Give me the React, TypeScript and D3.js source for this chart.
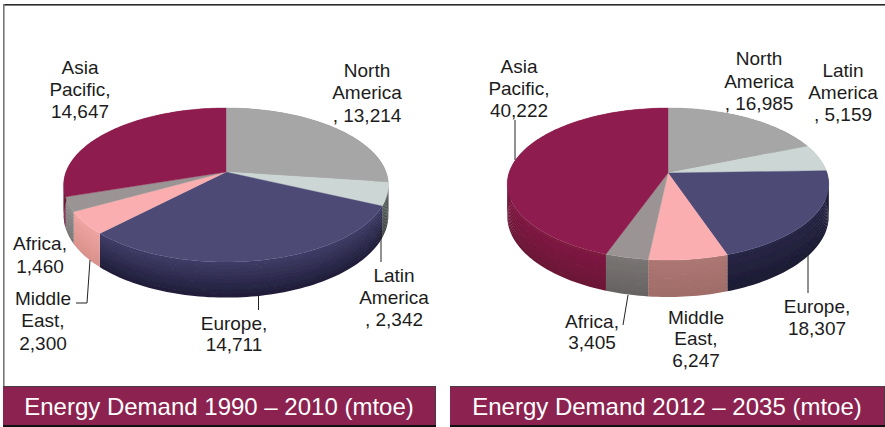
import React from "react";
import * as d3 from "d3";

// Energy demand by region, in mtoe, clockwise from twelve o'clock.
const regions = ["North America", "Latin America", "Europe", "Middle East", "Africa", "Asia Pacific"];
const demand1990 = [13214, 2342, 14711, 2300, 1460, 14647];
const demand2012 = [16985, 5159, 18307, 6247, 3405, 40222];
const titles = ["Energy Demand 1990 – 2010 (mtoe)", "Energy Demand 2012 – 2035 (mtoe)"];

const topColors = ["#a6a6a6", "#ccd6d4", "#4e4b76", "#fbaeb0", "#9b9494", "#8f1f4f"];
const sideTop1990 = ["#777", "#59625f", "#3e3b65", "#eda39f", "#8f8b8b", "#7c1a40"];
const sideBottom1990 = ["#555", "#3c4240", "#1e1c36", "#d98f8a", "#777373", "#5f1230"];
const sideTop2012 = ["#777", "#8e9694", "#272545", "#ac7672", "#787473", "#7e1a41"];
const sideBottom2012 = ["#555", "#666", "#1c1a32", "#a06c68", "#666262", "#6a1435"];

// Label text lines with their anchor x and the centre y of each line.
type Label = { lines: string[]; x: number; ys: number[] };
const labels1990: Label[] = [
  { lines: ["Asia", "Pacific,", "14,647"], x: 80, ys: [67, 89, 111] },
  { lines: ["North", "America", ", 13,214"], x: 367, ys: [70, 92, 115] },
  { lines: ["Latin", "America", ", 2,342"], x: 394, ys: [275, 297, 319] },
  { lines: ["Europe,", "14,711"], x: 234, ys: [323, 344] },
  { lines: ["Middle", "East,", "2,300"], x: 43, ys: [298, 320, 343] },
  { lines: ["Africa,", "1,460"], x: 40, ys: [243, 266] },
];
const labels2012: Label[] = [
  { lines: ["Asia", "Pacific,", "40,222"], x: 519, ys: [66, 88, 110] },
  { lines: ["North", "America", ", 16,985"], x: 759, ys: [58, 81, 103] },
  { lines: ["Latin", "America", ", 5,159"], x: 843, ys: [70, 92, 114] },
  { lines: ["Europe,", "18,307"], x: 817, ys: [306, 328] },
  { lines: ["Middle", "East,", "6,247"], x: 696, ys: [317, 338, 360] },
  { lines: ["Africa,", "3,405"], x: 592, ys: [321, 342] },
];

// Leader polylines from a label to its slice.
const leaders1990 = [
  [[381, 230], [381, 262]],
  [[258.5, 296], [258.5, 310]],
  [[90, 260], [87, 303], [76, 303]],
];
const leaders2012 = [
  [[515, 120], [515, 160]],
  [[808, 255], [808, 293]],
  [[628, 295], [623, 325]],
];

// A tilted disc: perspective maps the unit circle to an ellipse with the hub above its centre.
type Disc = { cx: number; hubY: number; r: number; h: number; k: number; depth: number };
const disc1990: Disc = { cx: 226, hubY: 172, r: 160, h: 74.8, k: 0.169, depth: 29 };
const disc2012: Disc = { cx: 668, hubY: 173, r: 159, h: 74.4, k: 0.145, depth: 31 };

const project = (d: Disc, angle: number, drop = 0): [number, number] => {
  const u = Math.sin(angle);
  const v = Math.cos(angle);
  const w = 1 / (1 + d.k * v);
  return [d.cx + d.r * u * w, d.hubY - d.h * v * w + drop * d.depth * w];
};

const pieLayout = d3.pie<number>().sort(null);
const linePath = d3.line();
const bandCount = 10;

function rim(d: Disc, a0: number, a1: number, drop = 0) {
  const steps = Math.max(2, Math.ceil((a1 - a0) * 40));
  return d3.range(steps + 1).map((i) => project(d, a0 + ((a1 - a0) * i) / steps, drop));
}

function Pie3D({ values, disc, sideTop, sideBottom }: { values: number[]; disc: Disc; sideTop: string[]; sideBottom: string[] }) {
  const arcs = pieLayout(values);
  return (
    <g filter="url(#soften)">
      {arcs.map((a, i) => {
        const mix = d3.interpolateRgb(sideTop[i], sideBottom[i]);
        return d3.range(bandCount).map((b) => {
          const t0 = b / bandCount;
          const t1 = (b + 1) / bandCount;
          const upper = rim(disc, a.startAngle, a.endAngle, t0);
          const lower = rim(disc, a.startAngle, a.endAngle, t1 + 0.02).reverse();
          return <path key={`${regions[i]}-${b}`} d={linePath([...upper, ...lower]) + "Z"} fill={mix(t0)} />;
        });
      })}
      {arcs.map((a, i) => (
        <path
          key={regions[i]}
          d={linePath([[disc.cx, disc.hubY], ...rim(disc, a.startAngle, a.endAngle)]) + "Z"}
          fill={topColors[i]}
          stroke={topColors[i]}
          strokeWidth={0.4}
        />
      ))}
    </g>
  );
}

function Labels({ items }: { items: Label[] }) {
  return (
    <g fontFamily="'Liberation Sans', Arial, sans-serif" fontSize={19} fill="#1c1c1c" textAnchor="middle">
      {items.map((l) =>
        l.lines.map((t, i) => (
          <text key={l.x + t} x={l.x} y={l.ys[i] + 6.5}>
            {t}
          </text>
        ))
      )}
    </g>
  );
}

function Leaders({ items }: { items: number[][][] }) {
  return (
    <g fill="none" stroke="#222" strokeWidth={1}>
      {items.map((pts, i) => (
        <path key={i} d={linePath(pts as [number, number][]) ?? ""} />
      ))}
    </g>
  );
}

function Banner({ x, width, title }: { x: number; width: number; title: string }) {
  return (
    <g>
      <rect x={x} y={386} width={width} height={39} fill="#8c2250" />
      <path d={`M${x},386.5H${x + width - 0.5}V425`} fill="none" stroke="#4a3a42" strokeWidth={1} />
      <rect x={x} y={425} width={width} height={2} fill="#111" />
      <text
        x={x + width / 2 - 0.5}
        y={414.5}
        textAnchor="middle"
        fontFamily="'Liberation Sans', Arial, sans-serif"
        fontSize={24}
        fill="#fff"
      >
        {title}
      </text>
    </g>
  );
}

export default function App() {
  return (
    <svg width={885} height={427} viewBox="0 0 885 427" style={{ position: "absolute", left: 0, top: 0, display: "block", background: "#fff" }}>
      <defs>
        <filter id="soften" x="-5%" y="-5%" width="110%" height="110%">
          <feGaussianBlur stdDeviation={0.6} />
        </filter>
      </defs>
      <rect x={3} y={4} width={882} height={1.6} fill="#2b2b2b" />
      <rect x={3} y={4} width={1.6} height={384} fill="#777" />
      <Pie3D values={demand1990} disc={disc1990} sideTop={sideTop1990} sideBottom={sideBottom1990} />
      <Pie3D values={demand2012} disc={disc2012} sideTop={sideTop2012} sideBottom={sideBottom2012} />
      <Leaders items={leaders1990} />
      <Leaders items={leaders2012} />
      <Labels items={labels1990} />
      <Labels items={labels2012} />
      <Banner x={3} width={433} title={titles[0]} />
      <Banner x={450} width={435} title={titles[1]} />
    </svg>
  );
}
